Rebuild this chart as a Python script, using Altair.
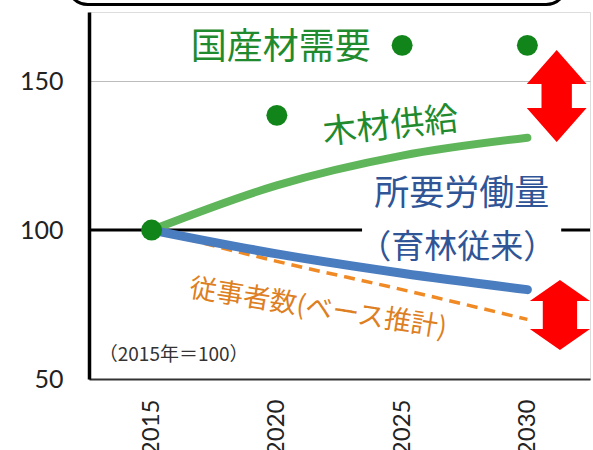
import altair as alt
import pandas as pd

# ---- data ----
years = [2015, 2020, 2025, 2030]
demand = [100, 138.5, 162, 162]        # 国産材需要 (points)
supply = [100, 115, 125, 131]          # 木材供給
labor = [100, 92, 85.5, 80]            # 所要労働量（育林従来）
workers = [100, 89.5, 80, 70]          # 従事者数(ベース推計)

y_ticks = [50, 100, 150]
x_ticks = [2015, 2020, 2025, 2030]

# gap markers (double arrows) : year position, centre value
gap_year = [2031.17, 2031.3]
gap_value = [145, 71.5]

# annotation anchors
label_text = ["国産材需要", "木材供給", "所要労働量", "（育林従来）", "従事者数(ベース推計)", "（2015年＝100）"]
label_year = [2020.15, 2024.54, 2027.38, 2027.2, 2021.65, 2015.88]
label_value = [161.1, 134.6, 112.1, 94.0, 73.5, 58.1]

FONT = "Noto Sans CJK JP"
xs = alt.Scale(domain=[2012.5, 2032.5], nice=False, zero=False)
ys = alt.Scale(domain=[50, 173.2], nice=False, zero=False)

x_axis = alt.Axis(
    values=x_ticks, format="d", title=None, labelAngle=270, ticks=False, tickSize=0,
    labelPadding=20, labelFont="Lato", labelFontSize=24, labelColor="#222",
    domainColor="#333", domainWidth=2, grid=False)
y_axis = alt.Axis(
    values=y_ticks, title=None, ticks=False, tickSize=0, labelPadding=26,
    labelFont="Lato", labelFontSize=25, labelColor="#222",
    domainColor="#000", domainWidth=3.5, grid=True, gridColor="#BDBDBD", gridWidth=1.2)


def X(field="x"):
    return alt.X(f"{field}:Q", scale=xs, axis=x_axis, title=None)


def Y(field="y"):
    return alt.Y(f"{field}:Q", scale=ys, axis=y_axis, title=None)


df = pd.DataFrame({"x": years, "demand": demand, "supply": supply,
                   "labor": labor, "workers": workers})

# rounded frame above the plot (title box edge)
box = alt.Chart(pd.DataFrame({"x": [2011.65], "x2": [2031.55], "y": [175.7], "y2": [200]})).mark_rect(
    cornerRadius=20, fill="white", stroke="black", strokeWidth=3
).encode(x=X(), x2="x2:Q", y=Y(), y2="y2:Q")

base_rule = alt.Chart(pd.DataFrame({"y": [100]})).mark_rule(color="black", strokeWidth=3).encode(y=Y())

mask = alt.Chart(pd.DataFrame({"x": [2023.4], "x2": [2031.35], "y": [96], "y2": [104]})).mark_rect(
    fill="white"
).encode(x=X(), x2="x2:Q", y=Y(), y2="y2:Q")

green_line = alt.Chart(df).mark_line(color="#5FB55A", strokeWidth=8, strokeCap="round",
                                     interpolate="monotone").encode(x=X(), y=Y("supply"))
orange_line = alt.Chart(df).mark_line(color="#F08A24", strokeWidth=3.5, strokeDash=[11, 7],
                                      interpolate="monotone").encode(x=X(), y=Y("workers"))
blue_line = alt.Chart(df).mark_line(color="#4A7CC0", strokeWidth=9, strokeCap="round",
                                    interpolate="monotone").encode(x=X(), y=Y("labor"))
dots = alt.Chart(df).mark_circle(size=440, color="#12851A", opacity=1).encode(x=X(), y=Y("demand"))

up_path = ("M0,-1L0.65,-0.26L0.33,-0.26L0.33,0.26L0.65,0.26L0,1"
           "L-0.65,0.26L-0.33,0.26L-0.33,-0.26L-0.65,-0.26Z")
low_path = ("M0,-1L0.86,-0.4L0.49,-0.4L0.49,0.4L0.86,0.4L0,1"
            "L-0.86,0.4L-0.49,0.4L-0.49,-0.4L-0.86,-0.4Z")
arrow_up = alt.Chart(pd.DataFrame({"x": [gap_year[0]], "y": [gap_value[0]]})).mark_point(
    shape=up_path, size=8464, filled=True, fill="#FF0000", opacity=1, strokeWidth=0
).encode(x=X(), y=Y())
arrow_low = alt.Chart(pd.DataFrame({"x": [gap_year[1]], "y": [gap_value[1]]})).mark_point(
    shape=low_path, size=4900, filled=True, fill="#FF0000", opacity=1, strokeWidth=0
).encode(x=X(), y=Y())

styles = [
    dict(color="#1F8B2E", fontSize=36, angle=0),
    dict(color="#1F8B2E", fontSize=34, angle=354),
    dict(color="#2F5597", fontSize=35, angle=0),
    dict(color="#2F5597", fontSize=33, angle=0),
    dict(color="#DD7F22", fontSize=27, angle=9),
    dict(color="#333333", fontSize=19, angle=0),
]
texts = []
for t, xv, yv, st in zip(label_text, label_year, label_value, styles):
    texts.append(
        alt.Chart(pd.DataFrame({"x": [xv], "y": [yv], "t": [t]})).mark_text(
            font=FONT, align="center", baseline="middle", **st
        ).encode(x=X(), y=Y(), text="t:N")
    )

chart = alt.layer(
    box, base_rule, mask, green_line, orange_line, blue_line, dots,
    arrow_up, arrow_low, *texts
).properties(
    width=501, height=367,
    autosize=alt.AutoSizeParams(type="none"),
    padding={"left": 89, "top": 12, "right": 3, "bottom": 71},
).configure_view(stroke="#A6A6A6", strokeWidth=1.5).configure(background="white")

chart.save("out.html", embed_options={"renderer": "svg", "actions": False})
